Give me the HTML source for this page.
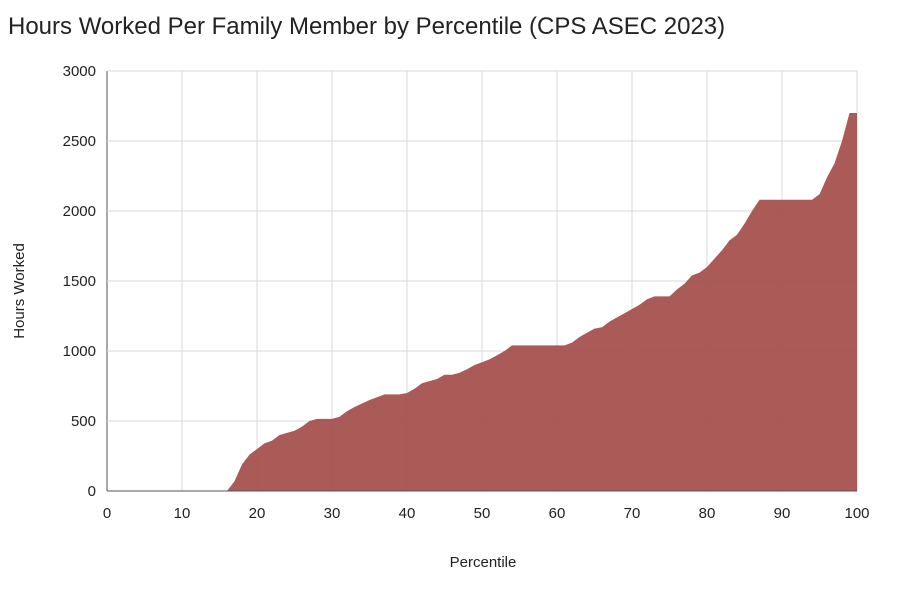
<!DOCTYPE html>
<html><head><meta charset="utf-8"><style>
body{margin:0;background:#fff;font-family:"Liberation Sans",sans-serif}
</style></head><body>
<svg width="900" height="584" xmlns="http://www.w3.org/2000/svg">
<text x="8" y="34" font-size="24" fill="#222">Hours Worked Per Family Member by Percentile (CPS ASEC 2023)</text>
<g id="grid"></g>
<path id="area" fill="#a5524f" fill-opacity="0.95"></path>
<g id="ticks" font-size="15" fill="#222"></g>
<text x="483" y="567" font-size="15" text-anchor="middle" fill="#222">Percentile</text>
<text transform="translate(24,291) rotate(-90)" font-size="15" text-anchor="middle" fill="#222">Hours Worked</text>
</svg>
<script>
const percentiles=[0,16,17,18,19,20,21,22,23,24,25,26,27,28,29,30,31,32,33,34,35,36,37,38,39,40,41,42,43,44,45,46,47,48,49,50,51,52,53,54,61,62,63,64,65,66,67,68,69,70,71,72,73,75,76,77,78,79,80,81,82,83,84,85,86,87,94,95,96,97,98,99,100];
const hours=[0,0,70,190,260,300,340,360,400,415,430,460,500,515,515,515,530,570,600,625,650,670,690,690,690,700,730,770,785,800,830,830,845,870,900,920,940,970,1000,1040,1040,1060,1100,1130,1160,1170,1210,1240,1270,1300,1330,1370,1390,1390,1440,1480,1540,1560,1600,1660,1720,1790,1830,1910,2000,2080,2080,2120,2240,2340,2500,2700,2700];
const xTicks=[0,10,20,30,40,50,60,70,80,90,100];
const yTicks=[0,500,1000,1500,2000,2500,3000];
const X=v=>107+v*7.5, Y=v=>491-v*0.14;
const NS="http://www.w3.org/2000/svg";
const grid=document.getElementById('grid'), tk=document.getElementById('ticks');
xTicks.forEach(t=>{
 const l=document.createElementNS(NS,'line');
 l.setAttribute('x1',X(t));l.setAttribute('x2',X(t));l.setAttribute('y1',Y(3000));l.setAttribute('y2',Y(0));
 l.setAttribute('stroke',t===0?'#555':'#d9d9d9');
 
 
 grid.appendChild(l);
 const s=document.createElementNS(NS,'text');
 s.setAttribute('x',X(t));s.setAttribute('y',518);s.setAttribute('text-anchor','middle');s.textContent=t;
 
 
 tk.appendChild(s);
});
yTicks.forEach(t=>{
 const l=document.createElementNS(NS,'line');
 l.setAttribute('x1',X(0));l.setAttribute('x2',X(100));l.setAttribute('y1',Y(t));l.setAttribute('y2',Y(t));
 l.setAttribute('stroke','#d9d9d9');
 
 
 grid.appendChild(l);
 const s=document.createElementNS(NS,'text');
 s.setAttribute('x',96);s.setAttribute('y',Y(t)+5);s.setAttribute('text-anchor','end');s.textContent=t;
 
 
 tk.appendChild(s);
});
let d='M'+X(percentiles[0])+','+Y(0);
percentiles.forEach((p,i)=>{d+=' L'+X(p)+','+Y(hours[i]);});
d+=' L'+X(percentiles[percentiles.length-1])+','+Y(0)+' Z';
document.getElementById('area').setAttribute('d',d);
const base=document.createElementNS(NS,'line');
base.setAttribute('x1',X(0));base.setAttribute('x2',X(100));base.setAttribute('y1',Y(0));base.setAttribute('y2',Y(0));
base.setAttribute('stroke','#555');


document.querySelector('svg').appendChild(base);
</script>
</body></html>
